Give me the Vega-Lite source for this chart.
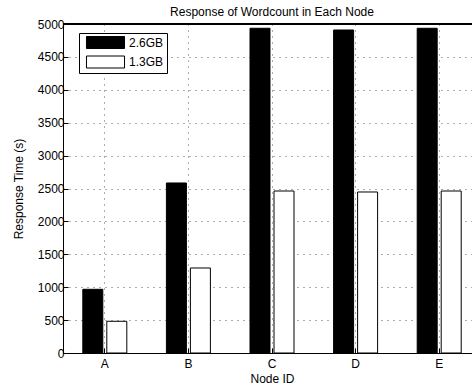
{
  "$schema": "https://vega.github.io/schema/vega-lite/v6.json",
  "width": 409,
  "height": 329,
  "autosize": {"type": "none"},
  "padding": {"left": 63, "top": 24, "right": 0, "bottom": 36},
  "background": "white",
  "config": {
    "font": "Liberation Sans",
    "view": {"stroke": null},
    "axis": {
      "labelFont": "Liberation Sans",
      "titleFont": "Liberation Sans",
      "labelFontSize": 12,
      "titleFontSize": 12,
      "titleFontWeight": "normal",
      "labelColor": "black",
      "titleColor": "black",
      "domainColor": "black",
      "tickColor": "black",
      "gridColor": "#333333",
      "gridDash": [1, 5],
      "gridOpacity": 0.8,
      "labelOverlap": false
    }
  },
  "title": {
    "text": "Response of Wordcount in Each Node",
    "fontSize": 12,
    "fontWeight": "normal",
    "font": "Liberation Sans",
    "color": "black",
    "anchor": "middle",
    "dx": 4.5,
    "offset": -1
  },
  "data": {
    "values": [
      {"node": "A", "size": "2.6GB", "time": 968},
      {"node": "A", "size": "1.3GB", "time": 482},
      {"node": "B", "size": "2.6GB", "time": 2584},
      {"node": "B", "size": "1.3GB", "time": 1292},
      {"node": "C", "size": "2.6GB", "time": 4935},
      {"node": "C", "size": "1.3GB", "time": 2462},
      {"node": "D", "size": "2.6GB", "time": 4909},
      {"node": "D", "size": "1.3GB", "time": 2447},
      {"node": "E", "size": "2.6GB", "time": 4935},
      {"node": "E", "size": "1.3GB", "time": 2462}
    ]
  },
  "layer": [
    {
      "mark": {"type": "bar", "stroke": "black", "strokeWidth": 1},
      "encoding": {
        "x": {
          "field": "node",
          "type": "nominal",
          "scale": {"range": [0, 418], "paddingInner": 0, "paddingOuter": 0},
          "axis": {
            "title": "Node ID",
            "labelAngle": 0,
            "grid": true,
            "tickSize": -5,
            "labelPadding": 10,
            "titlePadding": 4
          }
        },
        "xOffset": {
          "field": "size",
          "type": "nominal",
          "sort": ["2.6GB", "1.3GB"],
          "scale": {"paddingInner": 0.1667, "paddingOuter": 0.825}
        },
        "y": {
          "field": "time",
          "type": "quantitative",
          "scale": {"domain": [0, 5000], "nice": false},
          "axis": {
            "title": "Response Time (s)",
            "values": [0, 500, 1000, 1500, 2000, 2500, 3000, 3500, 4000, 4500, 5000],
            "format": "d",
            "grid": true,
            "tickSize": -5,
            "labelPadding": 4,
            "titlePadding": 12
          }
        },
        "color": {
          "field": "size",
          "type": "nominal",
          "sort": ["2.6GB", "1.3GB"],
          "scale": {"domain": ["2.6GB", "1.3GB"], "range": ["black", "white"]},
          "legend": {
            "title": null,
            "orient": "none",
            "legendX": 16,
            "legendY": 9,
            "strokeColor": "black",
            "fillColor": "white",
            "padding": 3,
            "symbolType": "M-3.17,-1H3.17V1H-3.17Z",
            "symbolSize": 144,
            "symbolStrokeColor": "black",
            "symbolStrokeWidth": 1,
            "symbolOffset": 17,
            "labelOffset": 17,
            "labelFont": "Liberation Sans",
            "labelFontSize": 12,
            "labelColor": "black",
            "rowPadding": 2.5
          }
        }
      }
    },
    {
      "mark": {"type": "rule", "color": "black", "strokeWidth": 1},
      "encoding": {
        "y": {
          "datum": 5000,
          "type": "quantitative",
          "scale": {"domain": [0, 5000], "nice": false},
          "axis": {
            "title": "Response Time (s)",
            "values": [0, 500, 1000, 1500, 2000, 2500, 3000, 3500, 4000, 4500, 5000],
            "format": "d",
            "grid": true,
            "tickSize": -5,
            "labelPadding": 4,
            "titlePadding": 12
          }
        }
      }
    }
  ]
}
